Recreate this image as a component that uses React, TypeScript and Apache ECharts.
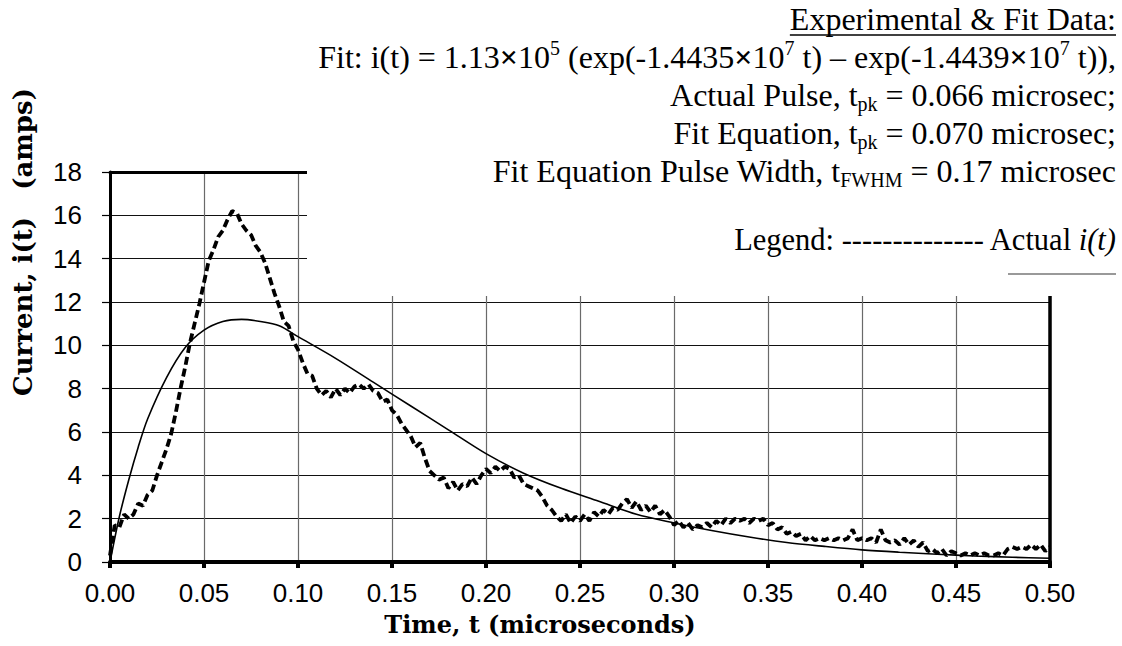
import React, { useEffect, useRef } from "react";
import * as echarts from "echarts";

// Sampling step (microseconds) of the measured pulse
const timeStep = 0.0025;

const actualCurrent = [
  0.3, 1.7, 1.6, 2.2, 2.0, 2.2, 2.7, 2.6, 3.1, 3.3,
  4.0, 4.6, 5.2, 5.9, 6.9, 8.0, 9.0, 10.1, 11.0, 11.9,
  12.9, 13.9, 14.4, 15.0, 15.3, 15.8, 16.2, 16.1, 15.6, 15.3,
  15.1, 14.6, 14.3, 13.8, 13.1, 12.4, 11.8, 11.1, 10.9, 10.2,
  9.8, 9.2, 8.7, 8.6, 8.0, 7.7, 7.9, 7.6, 8.0, 7.7,
  8.0, 7.8, 8.1, 8.2, 8.0, 8.2, 7.9, 7.8, 7.4, 7.5,
  7.0, 6.8, 6.4, 6.1, 5.8, 5.3, 5.5, 4.8, 4.2, 4.0,
  3.8, 3.9, 3.4, 3.7, 3.3, 3.6, 3.5, 3.9, 3.6, 4.0,
  4.3, 4.1, 4.4, 4.2, 4.4, 4.3, 3.9, 4.0, 3.6, 3.5,
  3.4, 3.3, 3.0, 2.6, 2.4, 2.1, 1.9, 2.2, 1.8, 2.1,
  1.9, 2.2, 1.9, 2.3, 2.1, 2.4, 2.2, 2.5, 2.4, 2.7,
  2.9, 2.5, 2.8, 2.4, 2.6, 2.3, 2.6, 2.2, 2.4, 2.1,
  1.7, 1.9, 1.6, 1.8, 1.5, 1.7, 1.6, 1.8, 1.6, 1.9,
  1.7, 2.0, 1.8, 2.0, 1.9, 2.0, 1.8, 2.0, 1.9, 2.0,
  1.7, 1.8, 1.5, 1.6, 1.3, 1.4, 1.2, 1.3, 1.0, 1.2,
  1.0, 1.1, 1.0, 1.1, 1.0, 1.1, 1.0, 1.1, 1.5, 1.0,
  1.1, 1.0, 1.1, 0.9, 1.5, 1.0, 0.9, 1.0, 0.8, 1.1,
  0.8, 1.0, 0.7, 0.9, 0.5, 0.6, 0.4, 0.6, 0.3, 0.5,
  0.4, 0.3, 0.4, 0.3, 0.4, 0.3, 0.4, 0.3, 0.3, 0.4,
  0.3, 0.6, 0.7, 0.6, 0.7, 0.6, 0.8, 0.6, 0.8, 0.5,
  0.7,
];

// Fit curve
const fitTimes = [
  0, 0.005, 0.01, 0.015, 0.02, 0.03, 0.04, 0.05, 0.06, 0.07, 0.08, 0.09, 0.1,
  0.12, 0.14, 0.16, 0.18, 0.2, 0.22, 0.24, 0.26, 0.28, 0.3, 0.32, 0.34, 0.36,
  0.38, 0.4, 0.42, 0.44, 0.46, 0.48, 0.5,
];
const fitCurrent = [
  0, 2.1, 3.8, 5.3, 6.6, 8.5, 9.9, 10.7, 11.1, 11.2, 11.1, 10.9, 10.4,
  9.4, 8.3, 7.2, 6.1, 5.0, 4.1, 3.4, 2.8, 2.2, 1.8, 1.45, 1.15, 0.9,
  0.72, 0.56, 0.45, 0.36, 0.28, 0.22, 0.17,
];

const xTitle = "Time, t (microseconds)";
const yTitle = "Current, i(t)   (amps)";
const headerTitle = "Experimental & Fit Data:";

const SERIF = '"Liberation Serif", "Times New Roman", serif';
const SANS = '"Liberation Sans", Arial, sans-serif';
const TITLE_FONT = '"DejaVu Serif", Cambria, serif';

const ANN_SIZE = 32;
const LEG_SIZE = 30.5;

function measure(text: string, font: string): number {
  const c = document.createElement("canvas").getContext("2d");
  if (!c) return 0;
  c.font = font;
  return c.measureText(text).width;
}

const rich = {
  n: { fontSize: ANN_SIZE, fontFamily: SERIF, fill: "#000", lineHeight: 38 },
  x: { fontSize: ANN_SIZE, fontFamily: SERIF, fontWeight: "bold", fill: "#000", lineHeight: 38 },
  sup: { fontSize: 20, fontFamily: SERIF, fill: "#000", lineHeight: 20, verticalAlign: "top" },
  sub: { fontSize: 20, fontFamily: SERIF, fill: "#000", lineHeight: 20, verticalAlign: "bottom" },
  l: { fontSize: LEG_SIZE, fontFamily: SERIF, fill: "#000", lineHeight: 38 },
  i: { fontSize: LEG_SIZE, fontFamily: SERIF, fontStyle: "italic", fill: "#000", lineHeight: 38 },
};

export default function App() {
  const ref = useRef<HTMLDivElement>(null);

  useEffect(() => {
    if (!ref.current) return;
    const chart = echarts.init(ref.current, undefined, { renderer: "svg" });

    const actualData = actualCurrent.map((v, i) => [i * timeStep, v]);
    const fitData = fitTimes.map((t, i) => [t, fitCurrent[i]]);

    const rightX = 1116;
    const headerW = measure(headerTitle, `${ANN_SIZE}px ${SERIF}`);

    const textEl = (y: number, text: string) => ({
      type: "text",
      z: 60,
      x: rightX,
      y,
      style: { text, rich, align: "right", verticalAlign: "middle", fill: "#000" },
    });

    const option: any = {
      animation: false,
      backgroundColor: "#fff",
      grid: { left: 110, right: 72, top: 172, bottom: 84 },
      xAxis: [
        {
          type: "value",
          min: 0,
          max: 0.5,
          interval: 0.05,
          position: "bottom",
          axisLine: { show: true, onZero: false, lineStyle: { color: "#000", width: 4 } },
          axisTick: { show: true, inside: false, length: 6, lineStyle: { color: "#000", width: 4 } },
          axisLabel: {
            formatter: (v: number) => v.toFixed(2),
            fontSize: 26,
            fontFamily: SANS,
            color: "#000",
            margin: 18,
          },
          splitLine: { show: true, lineStyle: { color: "#6a6a6a", width: 1.2 } },
        },
        {
          type: "value",
          min: 0,
          max: 0.5,
          position: "top",
          axisLine: { show: true, onZero: false, lineStyle: { color: "#000", width: 3 } },
          axisTick: { show: false },
          axisLabel: { show: false },
          splitLine: { show: false },
        },
      ],
      yAxis: [
        {
          type: "value",
          min: 0,
          max: 18,
          interval: 2,
          position: "left",
          axisLine: { show: true, onZero: false, lineStyle: { color: "#000", width: 3 } },
          axisTick: { show: true, inside: false, length: 8, lineStyle: { color: "#000", width: 1.2 } },
          axisLabel: { fontSize: 26, fontFamily: SANS, color: "#000", margin: 28 },
          splitLine: { show: true, lineStyle: { color: "#111", width: 1.1 } },
        },
        {
          type: "value",
          min: 0,
          max: 18,
          position: "right",
          axisLine: { show: true, onZero: false, lineStyle: { color: "#000", width: 3.5 } },
          axisTick: { show: false },
          axisLabel: { show: false },
          splitLine: { show: false },
        },
      ],
      series: [
        {
          name: "Fit",
          type: "line",
          data: fitData,
          xAxisIndex: 0,
          yAxisIndex: 0,
          showSymbol: false,
          smooth: 0.3,
          lineStyle: { color: "#000", width: 1.6 },
          z: 3,
        },
        {
          name: "Actual i(t)",
          type: "line",
          data: actualData,
          xAxisIndex: 0,
          yAxisIndex: 0,
          showSymbol: false,
          lineStyle: { color: "#000", width: 3.8, type: [8, 4] },
          z: 4,
        },
      ],
      graphic: [
        { type: "rect", z: 50, shape: { x: 307, y: 0, width: 815, height: 296 }, style: { fill: "#fff" } },
        {
          type: "text",
          z: 60,
          x: rightX,
          y: 19,
          style: { text: headerTitle, font: `${ANN_SIZE}px ${SERIF}`, fill: "#000", align: "right", verticalAlign: "middle" },
        },
        {
          type: "line",
          z: 60,
          shape: { x1: rightX - headerW, y1: 35, x2: rightX, y2: 35 },
          style: { stroke: "#000", lineWidth: 1.4 },
        },
        textEl(57, "{n|Fit: i(t) = 1.13}{x|×}{n|10}{sup|5}{n| (exp(-1.4435}{x|×}{n|10}{sup|7}{n| t) – exp(-1.4439}{x|×}{n|10}{sup|7}{n| t)),}"),
        textEl(95, "{n|Actual Pulse, t}{sub|pk}{n| = 0.066 microsec;}"),
        textEl(133, "{n|Fit Equation, t}{sub|pk}{n| = 0.070 microsec;}"),
        textEl(171, "{n|Fit Equation Pulse Width, t}{sub|FWHM}{n| = 0.17 microsec}"),
        textEl(240, "{l|Legend: -------------- Actual }{i|i(t)}"),
        {
          type: "line",
          z: 60,
          shape: { x1: 1008, y1: 274, x2: rightX, y2: 274 },
          style: { stroke: "#777", lineWidth: 1.5 },
        },
        {
          type: "text",
          z: 60,
          x: 540,
          y: 624,
          style: { text: xTitle, font: `bold 24px ${TITLE_FONT}`, fill: "#000", align: "center", verticalAlign: "middle" },
        },
        {
          type: "text",
          z: 60,
          x: 23,
          y: 242,
          rotation: Math.PI / 2,
          style: { text: yTitle, font: `bold 26px ${TITLE_FONT}`, fill: "#000", align: "center", verticalAlign: "middle" },
        },
      ],
    };

    chart.setOption(option);
    return () => chart.dispose();
  }, []);

  return (
    <div
      ref={ref}
      style={{ position: "absolute", left: 0, top: 0, width: 1122, height: 646, background: "#fff" }}
    />
  );
}
